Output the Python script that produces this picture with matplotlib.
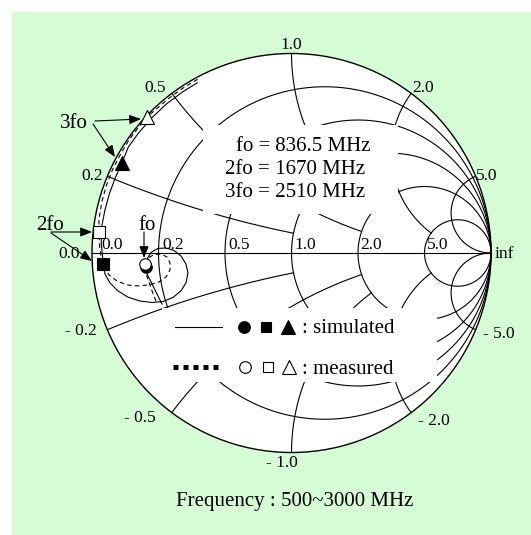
import numpy as np
import matplotlib.pyplot as plt
from matplotlib.patches import Rectangle, Circle

# canvas and chart placement, in pixels
W, H = 531, 535
CX, CY, RAD = 291.5, 253.0, 199.5

# Smith chart grid
r_circles = [0.2, 0.5, 1.0, 2.0, 5.0]
x_arcs = [0.2, 0.5, 1.0, 2.0, 5.0]
x_arc_stop = [1.0, 2.0, 2.0, 5.0, np.inf]   # resistance where each reactance arc ends

# reflection coefficient traces, 500-3000 MHz
sim_re = [-0.649, -0.674, -0.699, -0.722, -0.730, -0.724, -0.704, -0.669, -0.629,
          -0.589, -0.554, -0.529, -0.519, -0.529, -0.554, -0.594, -0.644, -0.699,
          -0.759, -0.820, -0.870, -0.910, -0.935, -0.943, -0.954, -0.951, -0.935,
          -0.913, -0.884, -0.850, -0.818, -0.768, -0.701, -0.627, -0.545, -0.473]
sim_im = [-0.256, -0.206, -0.155, -0.110, -0.069, -0.030, 0.003, 0.023, 0.025,
          0.013, -0.015, -0.055, -0.100, -0.150, -0.190, -0.223, -0.243, -0.248,
          -0.241, -0.221, -0.190, -0.150, -0.105, -0.055, 0.050, 0.134, 0.216,
          0.297, 0.375, 0.453, 0.531, 0.600, 0.677, 0.747, 0.808, 0.853]
meas_re = [-0.679, -0.699, -0.719, -0.732, -0.734, -0.719, -0.689, -0.654, -0.624,
           -0.609, -0.609, -0.629, -0.664, -0.714, -0.769, -0.825, -0.875, -0.915,
           -0.940, -0.955, -0.962, -0.965, -0.965, -0.951, -0.928, -0.897, -0.857,
           -0.813, -0.761, -0.723, -0.675, -0.609, -0.539, -0.465]
meas_im = [-0.241, -0.190, -0.135, -0.090, -0.055, -0.025, -0.008, -0.005, -0.020,
           -0.050, -0.085, -0.120, -0.145, -0.160, -0.165, -0.160, -0.140, -0.110,
           -0.070, -0.020, 0.035, 0.105, 0.170, 0.255, 0.338, 0.418, 0.495,
           0.569, 0.638, 0.682, 0.724, 0.780, 0.830, 0.874]

# fo, 2fo, 3fo
sim_mk_re = [-0.730, -0.943, -0.850]
sim_mk_im = [-0.069, -0.055, 0.453]
meas_mk_re = [-0.734, -0.965, -0.723]
meas_mk_im = [-0.055, 0.105, 0.682]
mk_shapes = ['o', 's', '^']
mk_sizes = [8.3, 8.8, 10.5]

edge_labels = ['1.0', '0.5', '2.0', '0.2', '5.0', '0.0', 'inf',
               '- 0.2', '- 5.0', '- 0.5', '- 2.0', '- 1.0']
axis_labels = ['0.0', '0.2', '0.5', '1.0', '2.0', '5.0']


def g(px, py):
    return (px - CX) / RAD, (CY - py) / RAD


def gamma(z):
    return (z - 1) / (z + 1)


plt.rcParams['font.family'] = ['Liberation Serif', 'DejaVu Serif']

fig = plt.figure(figsize=(W / 100, H / 100), dpi=100)
ax = fig.add_axes([0, 0, 1, 1])
ax.set_xlim(-CX / RAD, (W - CX) / RAD)
ax.set_ylim((CY - H) / RAD, CY / RAD)
ax.axis('off')

x0, y0 = g(12, H)
x1, y1 = g(W, 12)
ax.add_patch(Rectangle((x0, y0), x1 - x0, y1 - y0, fc='#d5fcd5', ec='none', zorder=0))
ax.add_patch(Circle((0, 0), 1, fc='white', ec='black', lw=1.0, zorder=1))

lw_grid = 0.8
t = np.linspace(0, 2 * np.pi, 721)
for r in r_circles:
    c, rad = r / (1 + r), 1 / (1 + r)
    ax.plot(c + rad * np.cos(t), rad * np.sin(t), color='k', lw=lw_grid, zorder=2)

for xv, stop in zip(x_arcs, x_arc_stop):
    if np.isinf(stop):
        rr = np.tan(np.linspace(0, np.pi / 2, 800)[:-1])
    else:
        rr = np.linspace(0, stop, 500)
    for s in (1, -1):
        gm = np.append(gamma(rr + 1j * s * xv), 1 + 0j if np.isinf(stop) else [])
        ax.plot(gm.real, gm.imag, color='k', lw=lw_grid, zorder=2)
ax.plot([-1, 1], [0, 0], color='k', lw=lw_grid, zorder=2)

# white panels behind the text blocks
for (a, b, c, d) in [(203, 125, 398, 214), (162, 308, 437, 382)]:
    xa, yb = g(a, d)
    xb, ya = g(c, b)
    ax.add_patch(Rectangle((xa, yb), xb - xa, ya - yb, fc='white', ec='none', zorder=3))

# traces
ax.plot(sim_re, sim_im, color='k', lw=0.8, zorder=4)
ax.plot(meas_re, meas_im, color='k', lw=0.8, ls=(0, (4, 3)), zorder=4)
for i in range(3):
    ax.plot(sim_mk_re[i], sim_mk_im[i], marker=mk_shapes[i], ms=mk_sizes[i],
            mfc='k', mec='k', mew=0.8, zorder=5)
for i in range(3):
    ax.plot(meas_mk_re[i], meas_mk_im[i], marker=mk_shapes[i], ms=mk_sizes[i],
            mfc='white', mec='k', mew=0.8, zorder=6)

# grid labels
fs_tick = 12.5
edge_pos = [(291, 49), (155, 91.5), (423, 91.5), (92, 179.5), (487, 179.5),
            (69, 257.5), (504, 257.5), (81, 335), (499, 338), (140, 421.5),
            (434, 425), (282, 467)]
for s, (px, py) in zip(edge_labels, edge_pos):
    ax.text(*g(px, py), s, fontsize=fs_tick, ha='center', va='baseline', zorder=7)
axis_x = [101.5, 162.5, 228.5, 294.5, 360.5, 426.5]
for s, px in zip(axis_labels, axis_x):
    ax.text(*g(px, 249), s, fontsize=fs_tick, ha='left', va='baseline', zorder=7)

# frequency summary, lined up on the equals signs
fs_main = 15
for left, right, py in [('fo =', ' 836.5 MHz', 151), ('2fo =', ' 1670 MHz', 174),
                        ('3fo =', ' 2510 MHz', 197)]:
    ax.text(*g(270, py), left, fontsize=fs_main, ha='right', va='baseline', zorder=7)
    ax.text(*g(270, py), right, fontsize=fs_main, ha='left', va='baseline', zorder=7)

# legend
ax.plot(*zip(g(175, 326.7), g(222, 326.7)), color='k', lw=0.8, zorder=5)
ax.plot(*zip(g(173, 366.7), g(222, 366.7)), color='k', lw=3.6, ls=(0, (1, 1)),
        solid_capstyle='butt', dash_capstyle='butt', zorder=5)
for i, px in enumerate([244, 266, 288]):
    ax.plot(*g(px, 326.7), marker=mk_shapes[i], ms=[8.4, 7.7, 9.4][i],
            mfc='k', mec='k', mew=0.8, zorder=5)
for i, px in enumerate([245, 268, 289]):
    ax.plot(*g(px, 366.7), marker=mk_shapes[i], ms=[8.4, 7.7, 9.4][i],
            mfc='white', mec='k', mew=0.8, zorder=5)
ax.text(*g(302, 333), ': simulated', fontsize=fs_main, ha='left', va='baseline', zorder=7)
ax.text(*g(302, 374), ': measured', fontsize=fs_main, ha='left', va='baseline', zorder=7)

ax.text(*g(294.5, 506), 'Frequency : 500~3000 MHz', fontsize=fs_main,
        ha='center', va='baseline', zorder=7)

# harmonic callouts
arrow = dict(arrowstyle='-|>,head_length=0.5,head_width=0.2', color='k', lw=0.8,
             mutation_scale=14, shrinkA=0, shrinkB=0)
ax.text(*g(74, 127.5), '3fo', fontsize=fs_main, ha='center', va='baseline', zorder=7)
ax.annotate('', xy=g(141, 119), xytext=g(95, 121), arrowprops=arrow, zorder=7)
ax.annotate('', xy=g(115, 157), xytext=g(93, 124), arrowprops=arrow, zorder=7)
ax.text(*g(50, 230), '2fo', fontsize=fs_main, ha='center', va='baseline', zorder=7)
ax.annotate('', xy=g(92, 232), xytext=g(51, 232), arrowprops=arrow, zorder=7)
ax.annotate('', xy=g(92, 261), xytext=g(51, 233), arrowprops=arrow, zorder=7)
ax.text(*g(147, 230), 'fo', fontsize=fs_main, ha='center', va='baseline', zorder=7)
ax.annotate('', xy=g(144, 258), xytext=g(144, 232), arrowprops=arrow, zorder=7)

fig.savefig('out.png', dpi=100, facecolor='white')
